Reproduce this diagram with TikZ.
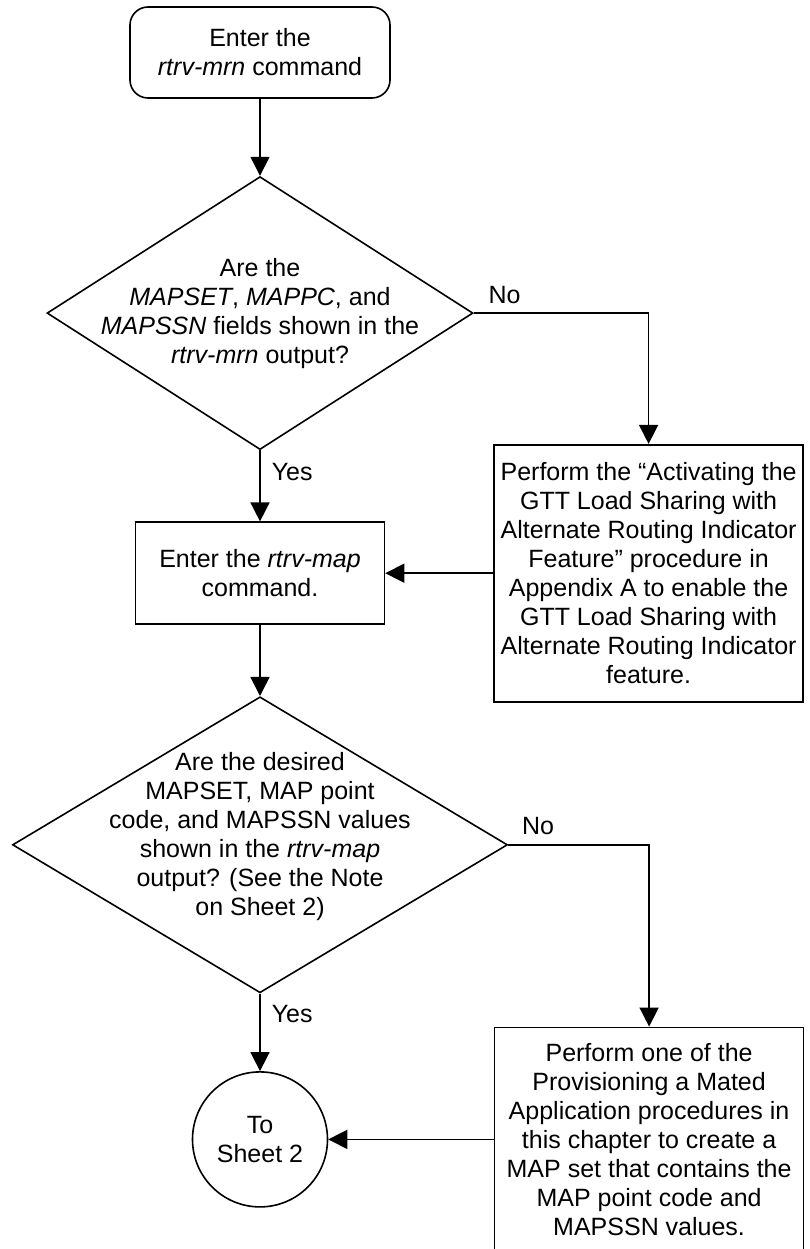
\documentclass[tikz,border=0pt]{standalone}
\usepackage{fontspec}
\setmainfont{Liberation Sans}
\usepackage{tikz}
\usetikzlibrary{arrows.meta,positioning,shapes.geometric}
\tikzset{
  startbox/.style={draw, line width=1.6pt, rounded corners=18pt,
        minimum width=260pt, minimum height=91pt, align=center, inner sep=0pt},
  procbox/.style={draw, line width=1.6pt, align=center, inner sep=0pt},
  dec/.style={draw, line width=1.6pt, diamond, inner sep=0pt},
  dectext/.style={align=center, inner sep=0pt},
  conn/.style={draw, circle, line width=1.6pt, minimum size=135pt,
        align=center, inner sep=0pt},
  flow/.style={-{Triangle[length=19pt, width=19pt]}, line width=1.6pt},
  flab/.style={inner sep=2pt}
}

\begin{document}
\begin{tikzpicture}[x=1pt, y=1pt, every node/.style={font=\fontsize{25}{29}\selectfont}]
\useasboundingbox (0,0) rectangle (809,-1249);
\node[startbox] (start) at (260,-52.5) {Enter the\\\textit{rtrv-mrn} command};
\node[dec, minimum width=426pt, minimum height=273pt, below=77pt of start] (mrnq) {};
\node[dectext] (mrnqtxt) at (mrnq) {Are the\\\textit{MAPSET}, \textit{MAPPC}, and\\\textit{MAPSSN} fields shown in the\\\textit{rtrv-mrn} output?};
\node[procbox, minimum width=249pt, minimum height=102pt, below=71pt of mrnq] (getmap) {Enter the \textit{rtrv-map}\\command.};
\node[procbox, minimum width=309pt, minimum height=257pt, right=108pt of getmap] (actgtt) {Perform the “Activating the\\GTT Load Sharing with\\Alternate Routing Indicator\\Feature” procedure in\\Appendix A to enable the\\GTT Load Sharing with\\Alternate Routing Indicator\\feature.};
\node[dec, minimum width=495pt, minimum height=296pt, below=71pt of getmap] (mapq) {};
\node[dectext, yshift=8pt] (mapqtxt) at (mapq) {Are the desired\\MAPSET, MAP point\\code, and MAPSSN values\\shown in the \textit{rtrv-map}\\output? (See the Note\\on Sheet 2)};
\node[conn, below=77.5pt of mapq] (sheet2) {To\\Sheet 2};
\node[procbox, minimum width=309pt, minimum height=224pt, right=165.5pt of sheet2] (provmap) {Perform one of the\\Provisioning a Mated\\Application procedures in\\this chapter to create a\\MAP set that contains the\\MAP point code and\\MAPSSN values.};

\draw[flow] (start) -- (mrnq);
\draw[flow] (mrnq.east) node[flab, anchor=south west, xshift=12pt, yshift=7pt] {No} -| (actgtt.north);
\draw[flow] (mrnq.south) -- node[flab, pos=0.31, right=9pt] {Yes} (getmap);
\draw[flow] (actgtt) -- (getmap);
\draw[flow] (getmap) -- (mapq);
\draw[flow] (mapq.east) node[flab, anchor=south west, xshift=11pt, yshift=7pt] {No} -| (provmap.north);
\draw[flow] (mapq.south) -- node[flab, pos=0.26, right=9pt] {Yes} (sheet2);
\draw[flow] (provmap) -- (sheet2);
\end{tikzpicture}
\end{document}
